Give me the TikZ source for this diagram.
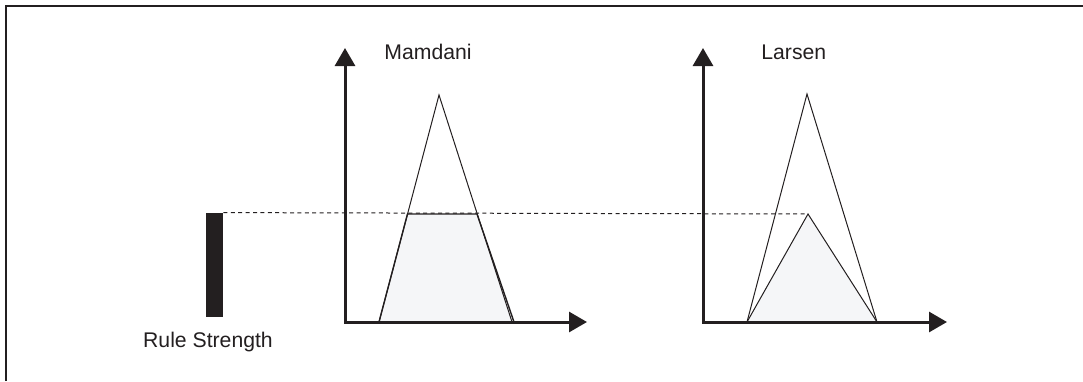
\documentclass[tikz,border=0pt]{standalone}
\usepackage{fontspec}
\setmainfont{Liberation Sans}
\usetikzlibrary{arrows.meta}
\definecolor{ink}{RGB}{35,31,32}
\definecolor{shade}{RGB}{245,246,248}

\begin{document}
\begin{tikzpicture}[x=0.5pt, y=-0.5pt,
    axis/.style={draw=ink, line width=1.5pt,
      {Triangle[length=9pt,width=10pt]}-{Triangle[length=9pt,width=10pt]}},
    memb/.style={draw=ink, line width=0.5pt},
    lbl/.style={text=ink, font=\fontsize{10.6}{12.7}\selectfont, inner sep=0pt}]
  \useasboundingbox (0,0) rectangle (1083,381);
  \draw[ink, line width=1pt] (6,381) -- (6,6) -- (1083,6);

  % rule strength
  \node[fill=ink, inner sep=0pt, minimum width=8.5pt, minimum height=52pt] (bar) at (214.5,265) {};
  \node[lbl, anchor=base] (strength) at (208,347) {Rule Strength};

  % Mamdani: clipped
  \filldraw[memb, line width=0.7pt, fill=shade] (379,322) -- (407.5,214) -- (477,214) -- (514,322);
  \draw[memb] (379,322) -- (439,95) -- (512,322);
  \node[lbl, anchor=base west] (mamdani) at (384,59) {Mamdani};

  % Larsen: scaled
  \coordinate (peak) at (808,214);
  \filldraw[memb, fill=shade] (747,322) -- (peak) -- (877,322);
  \draw[memb] (747,322) -- (807,94) -- (877,322);
  \node[lbl, anchor=base west] (larsen) at (761,59) {Larsen};

  \draw[ink, line width=0.5pt, dash pattern=on 2pt off 1.7pt] (bar.north east) -- (peak);

  \foreach \ox/\tip in {345/587, 703/947}
    \draw[axis] (\ox,48) -- (\ox,322) -- (\tip,322);
\end{tikzpicture}
\end{document}
